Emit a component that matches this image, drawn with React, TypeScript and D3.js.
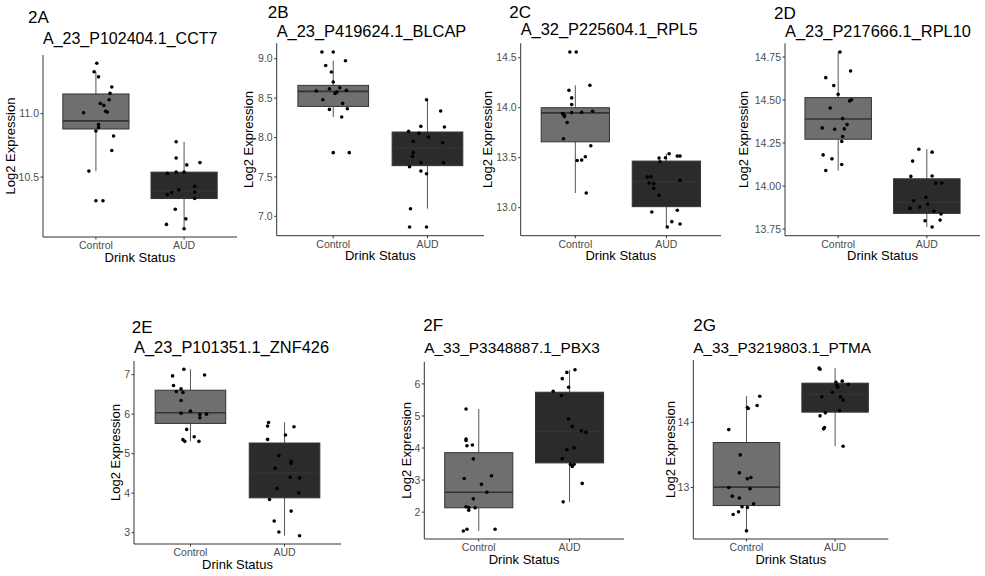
import React from "react";
import * as d3 from "d3";

// ---------- data ----------
const categories = ["Control", "AUD"];
const panelLabels = ["2A", "2B", "2C", "2D", "2E", "2F", "2G"];
const panelTitles = [
  "A_23_P102404.1_CCT7",
  "A_23_P419624.1_BLCAP",
  "A_32_P225604.1_RPL5",
  "A_23_P217666.1_RPL10",
  "A_23_P101351.1_ZNF426",
  "A_33_P3348887.1_PBX3",
  "A_33_P3219803.1_PTMA",
];
const xTitle = "Drink Status";
const yTitle = "Log2 Expression";

const yTicksA = ["10.5", "11.0"];
const yTicksB = ["7.0", "7.5", "8.0", "8.5", "9.0"];
const yTicksC = ["13.0", "13.5", "14.0", "14.5"];
const yTicksD = ["13.75", "14.00", "14.25", "14.50", "14.75"];
const yTicksE = ["3", "4", "5", "6", "7"];
const yTicksF = ["2", "3", "4", "5", "6"];
const yTicksG = ["13", "14"];

// box stats: [whisker low, Q1, median, Q3, whisker high]
const boxA_Control = [10.547, 10.879, 10.943, 11.155, 11.33];
const boxA_AUD = [10.093, 10.331, 10.391, 10.539, 10.778];
const boxB_Control = [8.26, 8.395, 8.586, 8.662, 8.975];
const boxB_AUD = [7.097, 7.643, 7.867, 8.07, 8.48];
const boxC_Control = [13.146, 13.659, 13.948, 14.0, 14.224];
const boxC_AUD = [12.807, 13.01, 13.26, 13.466, 13.539];
const boxD_Control = [14.09, 14.272, 14.39, 14.514, 14.779];
const boxD_AUD = [13.762, 13.841, 13.905, 14.042, 14.214];
const boxE_Control = [5.311, 5.765, 6.034, 6.605, 7.134];
const boxE_AUD = [2.924, 3.882, 4.512, 5.269, 5.79];
const boxF_Control = [1.413, 2.136, 2.618, 3.855, 5.216];
const boxF_AUD = [2.321, 3.536, 4.516, 5.741, 6.442];
const boxG_Control = [12.333, 12.722, 13.005, 13.69, 14.402];
const boxG_AUD = [13.634, 14.157, 14.427, 14.602, 14.833];

// sample values
const valsA_Control = [11.397, 11.33, 11.29, 11.21, 11.16, 11.11, 11.08, 11.065, 11.007, 11.018, 11.012, 10.915, 10.89, 10.863, 10.824, 10.71, 10.547, 10.313, 10.313];
const valsA_AUD = [10.778, 10.65, 10.596, 10.614, 10.529, 10.539, 10.539, 10.428, 10.399, 10.378, 10.362, 10.383, 10.331, 10.246, 10.171, 10.127, 10.093];
const valsB_Control = [9.085, 9.085, 8.975, 8.915, 8.831, 8.704, 8.619, 8.632, 8.59, 8.598, 8.577, 8.56, 8.48, 8.433, 8.357, 8.366, 8.26, 7.808, 7.808];
const valsB_AUD = [8.48, 8.336, 8.142, 8.133, 8.078, 8.053, 8.006, 7.951, 7.934, 7.808, 7.761, 7.681, 7.681, 7.63, 7.575, 7.541, 7.097, 6.865, 6.865];
const valsC_Control = [14.557, 14.557, 14.224, 14.174, 14.098, 14.031, 13.965, 13.941, 13.925, 13.911, 13.951, 13.955, 13.852, 13.689, 13.619, 13.509, 13.476, 13.472, 13.146];
const valsC_AUD = [13.539, 13.496, 13.499, 13.516, 13.516, 13.459, 13.306, 13.309, 13.246, 13.243, 13.193, 13.273, 13.123, 12.957, 12.974, 12.86, 12.837, 12.807];
const valsD_Control = [14.779, 14.669, 14.63, 14.584, 14.533, 14.502, 14.495, 14.454, 14.392, 14.357, 14.338, 14.33, 14.332, 14.288, 14.259, 14.181, 14.158, 14.125, 14.09];
const valsD_AUD = [14.214, 14.197, 14.145, 14.056, 14.058, 14.017, 14.017, 13.934, 13.914, 13.895, 13.878, 13.87, 13.853, 13.837, 13.802, 13.798, 13.762];
const valsE_Control = [7.134, 6.967, 6.992, 6.723, 6.571, 6.639, 6.546, 6.345, 6.025, 6.075, 5.992, 6.0, 5.908, 5.614, 5.354, 5.311, 5.429, 5.311];
const valsE_AUD = [5.79, 5.697, 5.681, 5.47, 5.361, 4.95, 4.63, 4.807, 4.757, 4.404, 4.386, 4.119, 4.008, 3.84, 3.546, 3.294, 3.017, 2.924];
const valsF_Control = [5.216, 4.278, 4.237, 4.072, 4.093, 3.66, 3.051, 3.134, 2.866, 2.618, 2.414, 2.167, 2.145, 2.062, 2.136, 1.413, 1.465, 1.465];
const valsF_AUD = [6.442, 6.359, 6.164, 5.895, 5.771, 5.638, 4.906, 4.68, 4.535, 4.495, 4.01, 3.948, 3.669, 3.496, 3.422, 3.496, 2.896, 2.321];
const valsG_Control = [14.402, 14.258, 14.227, 14.212, 13.889, 13.5, 13.224, 13.152, 13.132, 12.999, 12.979, 12.866, 12.836, 12.748, 12.702, 12.692, 12.625, 12.584, 12.333];
const valsG_AUD = [14.833, 14.817, 14.617, 14.633, 14.581, 14.571, 14.541, 14.458, 14.392, 14.392, 14.341, 14.181, 14.146, 14.1, 13.92, 13.9, 13.634];

// horizontal jitter of each sample (fraction of category step)
const jitA_Control = [0.01, -0.02, 0.03, 0.18, 0.16, 0.15, 0.05, 0.09, -0.14, 0.11, 0.13, 0.03, 0.03, 0, 0.2, 0.18, -0.08, 0, 0.08];
const jitA_AUD = [-0.09, -0.09, 0.03, 0.18, -0.19, -0.09, 0, 0.12, -0.06, -0.14, -0.19, 0.12, 0.12, -0.1, 0.02, -0.2, 0];
const jitB_Control = [-0.12, 0, 0.13, -0.08, -0.02, 0, -0.04, 0.07, -0.18, 0.14, 0.04, 0.02, -0.11, 0.1, -0.04, 0.15, 0.09, 0, 0.17];
const jitB_AUD = [-0.01, 0.14, -0.07, 0.18, -0.2, -0.09, 0.01, -0.15, 0.16, -0.15, -0.16, -0.07, 0.17, -0.19, -0.07, -0.01, -0.18, -0.19, -0.01];
const jitC_Control = [-0.06, 0.01, 0.16, -0.07, -0.04, -0.04, 0.19, -0.14, -0.12, -0.12, -0.04, 0.07, -0.09, -0.13, 0.17, 0.11, 0.07, 0.02, 0.12];
const jitC_AUD = [0.03, -0.08, -0.01, 0.12, 0.15, -0.07, -0.21, -0.17, -0.19, -0.14, -0.14, 0.15, -0.08, -0.16, 0.12, 0.06, 0.15, 0.01];
const jitD_Control = [0.02, 0.14, -0.14, -0.05, 0, 0.15, 0.13, -0.09, 0.05, 0.1, -0.18, -0.04, 0.07, 0.05, 0.04, -0.17, -0.07, 0.04, -0.14];
const jitD_AUD = [-0.09, 0.06, -0.16, -0.18, 0.06, 0.1, 0.17, -0.01, -0.15, 0.01, -0.08, -0.19, 0.08, 0.16, 0.15, -0.02, 0.06];
const jitE_Control = [-0.07, -0.19, 0.15, -0.18, -0.15, -0.1, -0.08, -0.1, -0.1, 0, 0.1, 0.17, 0.1, -0.04, -0.08, -0.06, 0.04, 0.09];
const jitE_AUD = [-0.17, -0.18, 0.1, 0.01, -0.18, -0.06, -0.1, 0.07, 0.07, 0.06, 0.16, -0.08, 0.15, -0.16, 0.07, -0.11, -0.06, 0.16];
const jitF_Control = [-0.14, -0.14, -0.14, -0.13, -0.07, -0.06, -0.16, 0.14, 0.03, 0.09, -0.06, -0.14, -0.11, -0.11, -0.04, -0.17, -0.13, 0.18];
const jitF_AUD = [0.06, -0.03, -0.08, -0.01, -0.18, -0.09, -0.01, 0.03, 0.13, 0.18, 0.05, -0.03, -0.08, 0.01, 0.03, 0.05, 0.14, -0.07];
const jitG_Control = [0.15, 0.12, 0.01, 0.02, -0.2, -0.07, -0.08, 0.05, 0.01, -0.2, 0.04, -0.16, -0.08, 0.08, -0.05, 0.01, -0.09, -0.15, 0];
const jitG_AUD = [-0.18, -0.17, 0.01, 0.08, 0.15, 0.02, 0.03, -0.03, -0.15, 0.06, 0.09, 0.05, -0.11, -0.17, -0.12, -0.13, 0.09];

// ---------- layout (positions / styles) ----------
const layouts = [
  { left: 43, right: 237, top: 55, bottom: 237, labX: 28, labY: 22.7, titleY: 44.3, titleSize: 16, yTitleX: 14.5 },
  { left: 276.7, right: 484, top: 43.3, bottom: 235.7, labX: 267.7, labY: 18.3, titleY: 37.3, titleSize: 16.4, yTitleX: 253 },
  { left: 520.7, right: 721, top: 43.3, bottom: 235.7, labX: 509.3, labY: 18.3, titleY: 35, titleSize: 16.4, yTitleX: 492 },
  { left: 785, right: 980, top: 43.3, bottom: 235.7, labX: 774, labY: 19.3, titleY: 36.7, titleSize: 16.4, yTitleX: 748 },
  { left: 134, right: 341, top: 361, bottom: 544, labX: 131.7, labY: 333.3, titleY: 353.3, titleSize: 16.4, yTitleX: 120 },
  { left: 424.3, right: 624, top: 361.7, bottom: 539, labX: 423.3, labY: 330.7, titleY: 353.3, titleSize: 15.4, yTitleX: 411 },
  { left: 693.3, right: 888.3, top: 360, bottom: 539, labX: 693.3, labY: 330.7, titleY: 353.3, titleSize: 15.3, yTitleX: 674.5 },
];

const panelTicks = [yTicksA, yTicksB, yTicksC, yTicksD, yTicksE, yTicksF, yTicksG];
const panelBoxes = [
  [boxA_Control, boxA_AUD], [boxB_Control, boxB_AUD], [boxC_Control, boxC_AUD], [boxD_Control, boxD_AUD],
  [boxE_Control, boxE_AUD], [boxF_Control, boxF_AUD], [boxG_Control, boxG_AUD],
];
const panelVals = [
  [valsA_Control, valsA_AUD], [valsB_Control, valsB_AUD], [valsC_Control, valsC_AUD], [valsD_Control, valsD_AUD],
  [valsE_Control, valsE_AUD], [valsF_Control, valsF_AUD], [valsG_Control, valsG_AUD],
];
const panelJit = [
  [jitA_Control, jitA_AUD], [jitB_Control, jitB_AUD], [jitC_Control, jitC_AUD], [jitD_Control, jitD_AUD],
  [jitE_Control, jitE_AUD], [jitF_Control, jitF_AUD], [jitG_Control, jitG_AUD],
];

const FONT = "'Liberation Sans', Arial, Helvetica, sans-serif";
const boxFills = ["#6f6f6f", "#2b2b2b"];
const LINE = "#333333";
const TICKTXT = "#4d4d4d";

function Panel({ idx }: { idx: number }) {
  const L = layouts[idx];
  const vals = panelVals[idx];
  const jits = panelJit[idx];
  const boxes = panelBoxes[idx];
  const all = vals.flat().concat(boxes.flat());
  const [mn, mx] = d3.extent(all) as [number, number];
  const pad = (mx - mn) * 0.05;
  const y = d3.scaleLinear().domain([mn - pad, mx + pad]).range([L.bottom, L.top]);
  const x = d3.scalePoint<string>().domain(categories).range([L.left, L.right]).padding(0.6);
  const step = x.step();
  const bw = step * 0.75;
  const midY = (L.top + L.bottom) / 2;
  const midX = (L.left + L.right) / 2;

  return (
    <g>
      <text x={L.labX} y={L.labY} fontFamily={FONT} fontSize={17} fill="#000">{panelLabels[idx]}</text>
      <text x={L.left} y={L.titleY} fontFamily={FONT} fontSize={L.titleSize} fill="#000">{panelTitles[idx]}</text>

      {categories.map((c, ci) => {
        const cx = x(c) as number;
        const [lo, q1, med, q3, hi] = boxes[ci];
        return (
          <g key={c}>
            <line x1={cx} x2={cx} y1={y(hi)} y2={y(q3)} stroke="#555" strokeWidth={1} />
            <line x1={cx} x2={cx} y1={y(q1)} y2={y(lo)} stroke="#555" strokeWidth={1} />
            <rect x={cx - bw / 2} y={y(q3)} width={bw} height={y(q1) - y(q3)} fill={boxFills[ci]} stroke={LINE} strokeWidth={1} />
            <line x1={cx - bw / 2} x2={cx + bw / 2} y1={y(med)} y2={y(med)} stroke={LINE} strokeWidth={1.6} />
          </g>
        );
      })}

      {categories.map((c, ci) => {
        const cx = x(c) as number;
        return (
          <g key={"p" + c}>
            {vals[ci].map((v, i) => (
              <circle key={i} cx={cx + jits[ci][i] * step} cy={y(v)} r={1.8} fill="#000" />
            ))}
          </g>
        );
      })}

      {/* axes */}
      <line x1={L.left} x2={L.left} y1={L.top} y2={L.bottom} stroke={LINE} strokeWidth={1} />
      <line x1={L.left} x2={L.right} y1={L.bottom} y2={L.bottom} stroke={LINE} strokeWidth={1} />
      {panelTicks[idx].map((t) => (
        <g key={t}>
          <line x1={L.left - 2.5} x2={L.left} y1={y(+t)} y2={y(+t)} stroke={LINE} strokeWidth={1} />
          <text x={L.left - 4} y={y(+t)} dy="0.35em" textAnchor="end" fontFamily={FONT} fontSize={10.5} fill={TICKTXT}>{t}</text>
        </g>
      ))}
      {categories.map((c) => (
        <g key={"x" + c}>
          <line x1={x(c)} x2={x(c)} y1={L.bottom} y2={L.bottom + 2.5} stroke={LINE} strokeWidth={1} />
          <text x={x(c)} y={L.bottom + 12} textAnchor="middle" fontFamily={FONT} fontSize={10.5} fill={TICKTXT}>{c}</text>
        </g>
      ))}
      <text x={midX} y={L.bottom + 24.5} textAnchor="middle" fontFamily={FONT} fontSize={13} fill="#000">{xTitle}</text>
      <text transform={`translate(${L.yTitleX},${midY}) rotate(-90)`} textAnchor="middle" fontFamily={FONT} fontSize={13} fill="#000">{yTitle}</text>
    </g>
  );
}

export default function App() {
  return (
    <svg width={985} height={576} style={{ position: "absolute", left: 0, top: 0, background: "#fff" }}>
      <rect width={985} height={576} fill="#fff" />
      {panelLabels.map((_, i) => (
        <Panel key={i} idx={i} />
      ))}
    </svg>
  );
}
